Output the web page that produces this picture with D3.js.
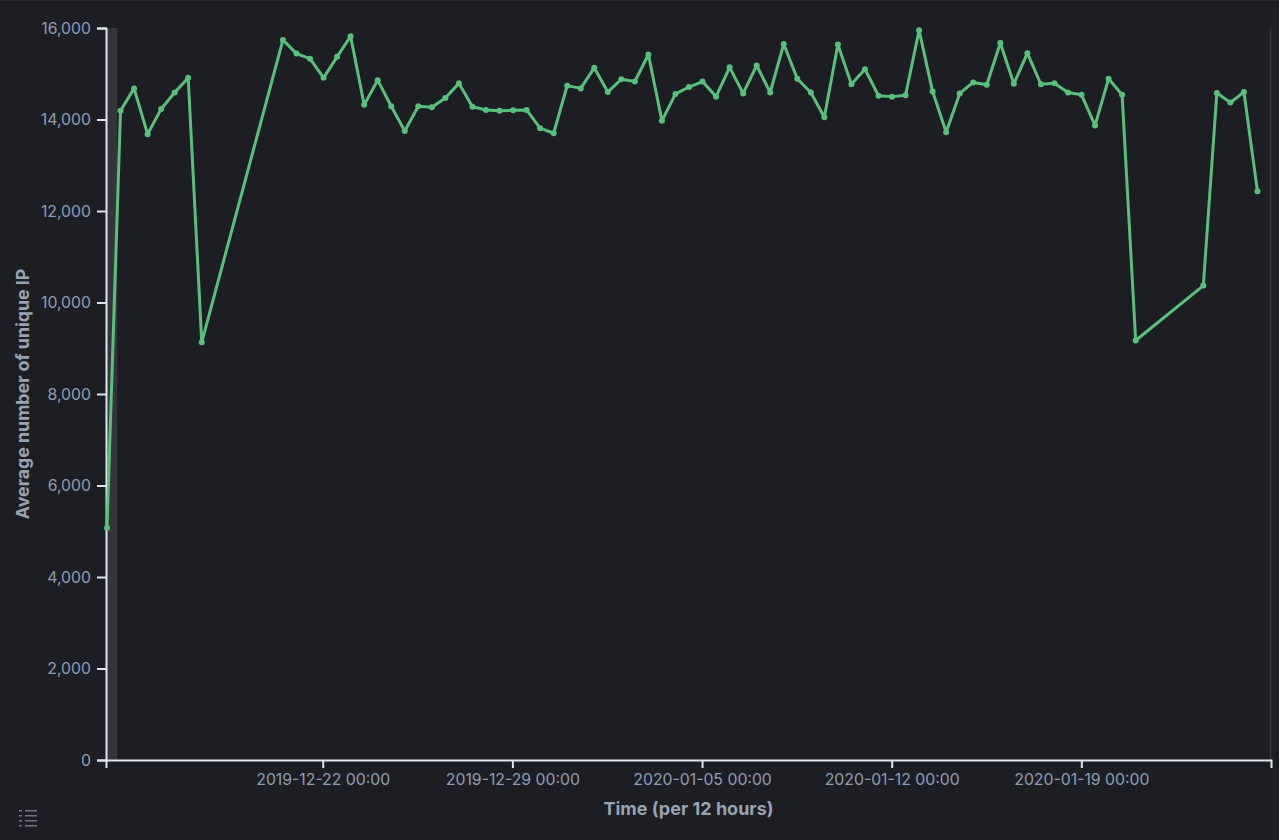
<!DOCTYPE html>
<html>
<head>
<meta charset="utf-8">
<script src="https://cdn.jsdelivr.net/npm/d3@7/dist/d3.min.js"></script>
<style>
  html, body { margin: 0; padding: 0; background: #1d1e24; }
  svg { display: block; }
</style>
</head>
<body>
<svg id="chart" width="1279" height="840"></svg>
<script>
// ---- data ----
const times = [
  "2019-12-14 00:00","2019-12-14 12:00","2019-12-15 00:00","2019-12-15 12:00","2019-12-16 00:00","2019-12-16 12:00",
  "2019-12-17 00:00","2019-12-17 12:00",
  "2019-12-20 12:00","2019-12-21 00:00","2019-12-21 12:00","2019-12-22 00:00","2019-12-22 12:00","2019-12-23 00:00",
  "2019-12-23 12:00","2019-12-24 00:00","2019-12-24 12:00","2019-12-25 00:00","2019-12-25 12:00","2019-12-26 00:00",
  "2019-12-26 12:00","2019-12-27 00:00","2019-12-27 12:00","2019-12-28 00:00","2019-12-28 12:00","2019-12-29 00:00",
  "2019-12-29 12:00","2019-12-30 00:00","2019-12-30 12:00","2019-12-31 00:00","2019-12-31 12:00","2020-01-01 00:00",
  "2020-01-01 12:00","2020-01-02 00:00","2020-01-02 12:00","2020-01-03 00:00","2020-01-03 12:00","2020-01-04 00:00",
  "2020-01-04 12:00","2020-01-05 00:00","2020-01-05 12:00","2020-01-06 00:00","2020-01-06 12:00","2020-01-07 00:00",
  "2020-01-07 12:00","2020-01-08 00:00","2020-01-08 12:00","2020-01-09 00:00","2020-01-09 12:00","2020-01-10 00:00",
  "2020-01-10 12:00","2020-01-11 00:00","2020-01-11 12:00","2020-01-12 00:00","2020-01-12 12:00","2020-01-13 00:00",
  "2020-01-13 12:00","2020-01-14 00:00","2020-01-14 12:00","2020-01-15 00:00","2020-01-15 12:00","2020-01-16 00:00",
  "2020-01-16 12:00","2020-01-17 00:00","2020-01-17 12:00","2020-01-18 00:00","2020-01-18 12:00","2020-01-19 00:00",
  "2020-01-19 12:00","2020-01-20 00:00","2020-01-20 12:00","2020-01-21 00:00",
  "2020-01-23 12:00","2020-01-24 00:00","2020-01-24 12:00","2020-01-25 00:00","2020-01-25 12:00"
];
const uniqueIP = [
  5070,14190,14680,13680,14230,14590,
  14910,9130,
  15740,15440,15330,14910,15370,15820,
  14320,14860,14290,13750,14290,14270,
  14470,14790,14280,14210,14190,14200,
  14210,13810,13700,14740,14680,15130,
  14600,14880,14830,15420,13970,14560,
  14710,14830,14500,15140,14570,15180,
  14590,15650,14890,14590,14050,15640,
  14770,15100,14520,14500,14530,15950,
  14610,13720,14570,14810,14760,15670,
  14780,15450,14770,14790,14590,14540,
  13870,14890,14540,9170,
  10370,14580,14370,14600,12430
];
const timeDomain = ["2019-12-14 00:00", "2020-01-26 00:00"];
const xTickValues = ["2019-12-22 00:00","2019-12-29 00:00","2020-01-05 00:00","2020-01-12 00:00","2020-01-19 00:00"];
const yTickValues = [0,2000,4000,6000,8000,10000,12000,14000,16000];
const yDomain = [0, 16000];
const partialBands = [
  ["2019-12-14 00:00","2019-12-14 09:30"],
  ["2020-01-25 23:00","2020-01-26 00:00"]
];
const xTitle = "Time (per 12 hours)";
const yTitle = "Average number of unique IP";

// ---- drawing ----
(function () {
const parse = d3.utcParse("%Y-%m-%d %H:%M");
const fmt = d3.utcFormat("%Y-%m-%d %H:%M");
const data = times.map((t, i) => ({ t: parse(t), v: uniqueIP[i] }));

const svg = d3.select("#chart");
const mLeft = 106, mRight = 1271, mTop = 28, mBottom = 760;

svg.append("rect").attr("x", 0).attr("y", 0).attr("width", 1279).attr("height", 840).attr("fill", "#1d1e24");
svg.append("rect").attr("x", 0).attr("y", 0).attr("width", 1279).attr("height", 1).attr("fill", "#2b2c33");

const x = d3.scaleUtc().domain(timeDomain.map(parse)).range([mLeft + 1, mRight]);
const y = d3.scaleLinear().domain(yDomain).range([mBottom, mTop]);

// partial buckets
svg.append("g").selectAll("rect").data(partialBands).join("rect")
  .attr("x", d => x(parse(d[0])))
  .attr("y", mTop)
  .attr("width", d => Math.max(1.5, x(parse(d[1])) - x(parse(d[0])) - 0.5))
  .attr("height", mBottom - mTop)
  .attr("fill", "#34353b");

// axes
const axisColor = "#dfe5ef";
const tickColor = "#8e9db4";
const font = "Inter, 'Noto Sans', sans-serif";

const yAxis = svg.append("g")
  .attr("transform", `translate(${mLeft},0)`)
  .call(d3.axisLeft(y).tickValues(yTickValues).tickFormat(d3.format(",")).tickSize(9).tickSizeOuter(9).tickPadding(6));
const xAxis = svg.append("g")
  .attr("transform", `translate(0,${mBottom})`)
  .call(d3.axisBottom(x.copy().range([mLeft, mRight])).tickValues(xTickValues.map(parse)).tickFormat(fmt).tickSize(8).tickSizeOuter(8).tickPadding(6));

[xAxis, yAxis].forEach(a => {
  a.select(".domain").attr("stroke", axisColor).attr("stroke-width", 2);
  a.selectAll(".tick line").attr("stroke", axisColor).attr("stroke-width", 2);
  a.selectAll(".tick text").attr("fill", tickColor)
    .style("font-family", font).style("font-size", "15.8px");
});

// line
const line = d3.line().x(d => x(d.t)).y(d => y(d.v));
svg.append("path").datum(data)
  .attr("d", line)
  .attr("fill", "none")
  .attr("stroke", "#57c17b")
  .attr("stroke-width", 3)
  .attr("stroke-linejoin", "round");

svg.append("g").selectAll("circle").data(data).join("circle")
  .attr("cx", d => x(d.t)).attr("cy", d => y(d.v)).attr("r", 3)
  .attr("fill", "#57c17b");

// titles
svg.append("text")
  .attr("x", (mLeft + mRight) / 2).attr("y", 815)
  .attr("text-anchor", "middle")
  .attr("fill", "#98a2b3")
  .style("font-family", font).style("font-size", "18px").style("font-weight", "700")
  .text(xTitle);

svg.append("text")
  .attr("transform", `translate(29,${(mTop + mBottom) / 2}) rotate(-90)`)
  .attr("text-anchor", "middle")
  .attr("fill", "#98a2b3")
  .style("font-family", font).style("font-size", "17.8px").style("font-weight", "700")
  .text(yTitle);

// legend toggle icon
const icon = svg.append("g").attr("transform", "translate(19,810)");
[0, 5, 10, 15].forEach(dy => {
  icon.append("rect").attr("x", 0).attr("y", dy).attr("width", 3).attr("height", 1.5).attr("fill", "#6f7480");
  icon.append("rect").attr("x", 6).attr("y", dy).attr("width", 12).attr("height", 1.5).attr("fill", "#6f7480");
});
})();
</script>
</body>
</html>
